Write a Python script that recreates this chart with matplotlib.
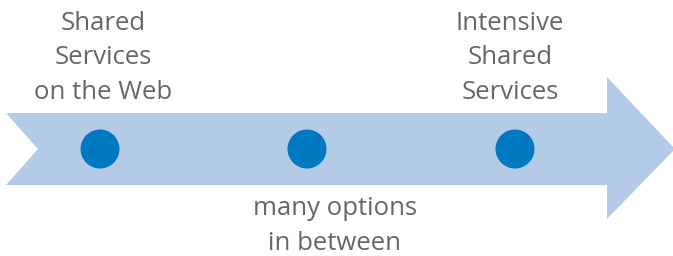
import matplotlib
matplotlib.use("Agg")
import matplotlib.pyplot as plt
from matplotlib.patches import Polygon, Circle

top_labels = ["Shared\nServices\non the Web", "Intensive\nShared\nServices"]
bottom_labels = ["many options\nin between"]
stage_positions = [100, 307, 515]

W, H = 673, 256
fig = plt.figure(figsize=(W / 100, H / 100), dpi=100)
ax = fig.add_axes([0, 0, 1, 1])
ax.set_xlim(0, W)
ax.set_ylim(H, 0)
ax.axis("off")

arrow_color = "#B4CBE8"
dot_color = "#0079C1"
text_color = "#666666"

cy = 149
pts = [(6, 113), (607, 113), (607, 77), (675, cy), (607, 219), (607, 185),
       (6, 185), (38, cy)]
ax.add_patch(Polygon(pts, closed=True, facecolor=arrow_color, edgecolor="none"))

for x in stage_positions:
    ax.add_patch(Circle((x, cy), 19.5, facecolor=dot_color, edgecolor="none"))

font = dict(family=["Open Sans", "DejaVu Sans"], color=text_color, fontsize=18.5,
            ha="center", va="center", linespacing=1.52)
ax.text(103, 58, top_labels[0], **font)
ax.text(510, 58, top_labels[1], **font)
ax.text(335, 226, bottom_labels[0], **font)

fig.savefig("out.png", dpi=100)
